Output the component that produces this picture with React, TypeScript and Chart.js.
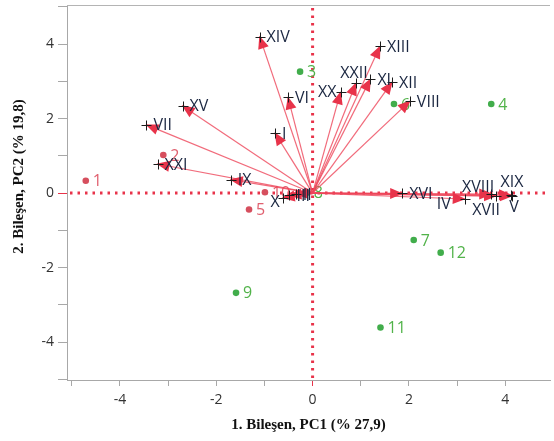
import React, { useEffect, useRef } from "react";
import { Chart, registerables } from "chart.js";

Chart.register(...registerables);

// Loadings (variables)
const loadingNames = ["I", "II", "III", "IV", "V", "VI", "VII", "VIII", "IX", "X", "XI", "XII", "XIII", "XIV", "XV", "XVI", "XVII", "XVIII", "XIX", "XX", "XXI", "XXII"];
const loadingPC1 = [-0.78, -0.35, -0.48, 3.16, 4.14, -0.51, -3.45, 2.02, -1.7, -0.62, 1.2, 1.65, 1.4, -1.1, -2.7, 1.86, 3.81, 3.71, 4.12, 0.58, -3.22, 0.9];
const loadingPC2 = [1.61, -0.03, -0.06, -0.16, -0.08, 2.57, 1.83, 2.47, 0.36, -0.13, 3.06, 2.98, 3.94, 4.2, 2.34, -0.01, -0.08, -0.03, -0.05, 2.71, 0.78, 2.95];

// Scores (observations)
const scoreNames = ["1", "2", "3", "4", "5", "6", "7", "8", "9", "10", "11", "12"];
const scorePC1 = [-4.71, -3.1, -0.26, 3.71, -1.32, 1.69, 2.1, -0.12, -1.59, -0.99, 1.41, 2.66];
const scorePC2 = [0.33, 1.02, 3.26, 2.39, -0.44, 2.39, -1.26, 0.01, -2.68, 0.02, -3.61, -1.6];
const scoreGroup = ["a", "a", "b", "b", "a", "b", "b", "b", "b", "a", "b", "b"];

// Ticks (all tick marks) and labelled tick values
const xTickValues = [-5, -4, -3, -2, -1, 0, 1, 2, 3, 4];
const yTickValues = [-5, -4, -3, -2, -1, 0, 1, 2, 3, 4, 5];
const xTickLabels = [-4, -2, 0, 2, 4];
const yTickLabels = [-4, -2, 0, 2, 4];

const xTitle = "1. Bileşen, PC1 (% 27,9)";
const yTitle = "2. Bileşen, PC2 (% 19,8)";

// styles
const RED = "#e8334a";
const ARROW_LINE = "rgba(238,70,90,0.8)";
const SCORE_COLORS: Record<string, string> = { a: "#d64f5e", b: "#41ad4b" };
const SCORE_LABEL_COLORS: Record<string, string> = { a: "#e0606f", b: "#52b34a" };
const LABEL_FONT = "16px 'Open Sans', 'Noto Sans', sans-serif";
const TICK_FONT = "'Open Sans', 'Noto Sans', sans-serif";

// label placement (align, dx, dy)
const labelPlace: Record<string, [CanvasTextAlign, number, number]> = {
  X: ["right", -3, 5],
  XX: ["right", -4, 0],
  XXII: ["center", -2, -10],
  IV: ["right", -14, 5],
  XVIII: ["right", 3, -7],
  XVII: ["center", -10, 14],
  XIX: ["center", 1, -12],
  V: ["center", 2, 11],
};

const biplotPlugin = {
  id: "biplot",
  beforeDatasetsDraw(chart: any) {
    const { ctx, chartArea: a, scales } = chart;
    const x = scales.x;
    const y = scales.y;
    ctx.save();
    ctx.strokeStyle = "#b4b4b4";
    ctx.lineWidth = 1;
    ctx.beginPath();
    ctx.moveTo(a.left, a.top + 0.5);
    ctx.lineTo(a.right, a.top + 0.5);
    ctx.stroke();
    const x0 = x.getPixelForValue(0);
    const y0 = y.getPixelForValue(0);
    ctx.strokeStyle = RED;
    ctx.lineWidth = 3;
    ctx.setLineDash([2.5, 5]);
    ctx.beginPath();
    ctx.moveTo(x0, a.top + 3);
    ctx.lineTo(x0, a.bottom);
    ctx.stroke();
    ctx.beginPath();
    ctx.moveTo(a.left + 3, y0);
    ctx.lineTo(a.right, y0);
    ctx.stroke();
    ctx.setLineDash([]);
    ctx.restore();
  },
  afterDatasetsDraw(chart: any) {
    const { ctx, scales } = chart;
    const x = scales.x;
    const y = scales.y;
    ctx.save();
    ctx.font = LABEL_FONT;
    ctx.textBaseline = "middle";
    ctx.textAlign = "left";
    scoreNames.forEach((n, i) => {
      const px = x.getPixelForValue(scorePC1[i]);
      const py = y.getPixelForValue(scorePC2[i]);
      ctx.fillStyle = SCORE_LABEL_COLORS[scoreGroup[i]];
      ctx.fillText(n, px + 7, py + 1);
    });
    const ox = x.getPixelForValue(0);
    const oy = y.getPixelForValue(0);
    ctx.strokeStyle = ARROW_LINE;
    ctx.lineWidth = 1.2;
    loadingNames.forEach((_, i) => {
      const px = x.getPixelForValue(loadingPC1[i]);
      const py = y.getPixelForValue(loadingPC2[i]);
      ctx.beginPath();
      ctx.moveTo(ox, oy);
      ctx.lineTo(px, py);
      ctx.stroke();
    });
    ctx.fillStyle = RED;
    loadingNames.forEach((_, i) => {
      const px = x.getPixelForValue(loadingPC1[i]);
      const py = y.getPixelForValue(loadingPC2[i]);
      const dx = px - ox;
      const dy = py - oy;
      const len = Math.hypot(dx, dy) || 1;
      const ux = dx / len;
      const uy = dy / len;
      const hl = 12;
      const hw = 5.5;
      const bx = px - ux * hl;
      const by = py - uy * hl;
      ctx.beginPath();
      ctx.moveTo(px + ux * 1, py + uy * 1);
      ctx.lineTo(bx - uy * hw, by + ux * hw);
      ctx.lineTo(bx + uy * hw, by - ux * hw);
      ctx.closePath();
      ctx.fill();
    });
    ctx.strokeStyle = "#1b1b1b";
    ctx.lineWidth = 1;
    loadingNames.forEach((_, i) => {
      const px = Math.round(x.getPixelForValue(loadingPC1[i])) + 0.5;
      const py = Math.round(y.getPixelForValue(loadingPC2[i])) + 0.5;
      ctx.beginPath();
      ctx.moveTo(px - 5, py);
      ctx.lineTo(px + 5, py);
      ctx.moveTo(px, py - 5);
      ctx.lineTo(px, py + 5);
      ctx.stroke();
    });
    ctx.fillStyle = "#1a2640";
    ctx.font = LABEL_FONT;
    ctx.textBaseline = "middle";
    loadingNames.forEach((n, i) => {
      const px = x.getPixelForValue(loadingPC1[i]);
      const py = y.getPixelForValue(loadingPC2[i]);
      const p = labelPlace[n] || ["left", 7, 1];
      ctx.textAlign = p[0];
      ctx.fillText(n, px + p[1], py + p[2]);
    });
    ctx.restore();
  },
  afterDraw(chart: any) {
    const { ctx, chartArea: a } = chart;
    ctx.save();
    ctx.translate(19, (a.top + a.bottom) / 2 - 16);
    ctx.rotate(-Math.PI / 2);
    ctx.font = "bold 15px 'Liberation Serif', 'Times New Roman', serif";
    ctx.fillStyle = "#111";
    ctx.textAlign = "center";
    ctx.textBaseline = "middle";
    ctx.fillText(yTitle, 0, 0);
    ctx.restore();
  },
};

const tickColor = (c: any) => (c.tick && c.tick.value === 0 ? RED : "#a8a8a8");

export default function App() {
  const ref = useRef<HTMLCanvasElement | null>(null);
  useEffect(() => {
    document.body.style.margin = "0";
    if (!ref.current) return;
    const chart = new Chart(ref.current, {
      type: "scatter",
      data: {
        datasets: ["a", "b"].map((g) => ({
          label: g,
          data: scoreNames
            .map((_, i) => ({ x: scorePC1[i], y: scorePC2[i], g: scoreGroup[i] }))
            .filter((d) => d.g === g)
            .map((d) => ({ x: d.x, y: d.y })),
          pointRadius: 3.3,
          pointBorderWidth: 0,
          backgroundColor: SCORE_COLORS[g],
          borderColor: SCORE_COLORS[g],
        })),
      },
      options: {
        animation: false,
        responsive: false,
        maintainAspectRatio: false,
        layout: { padding: { top: 5, left: 0, right: 0, bottom: 0 } },
        plugins: { legend: { display: false }, tooltip: { enabled: false } },
        scales: {
          x: {
            type: "linear",
            bounds: "data",
            min: -5.1,
            max: 4.93,
            afterBuildTicks: (s: any) => {
              s.ticks = xTickValues.map((v) => ({ value: v }));
            },
            ticks: {
              autoSkip: false,
              maxRotation: 0,
              padding: 6,
              color: "#333",
              font: { family: TICK_FONT, size: 14 },
              callback: (v: any) => (xTickLabels.includes(Number(v)) ? String(v) : ""),
            },
            grid: { drawOnChartArea: false, drawTicks: true, tickLength: 6, tickColor: tickColor },
            border: { color: "#a8a8a8" },
            title: {
              display: true,
              text: xTitle,
              color: "#111",
              font: { family: "'Liberation Serif', 'Times New Roman', serif", size: 15, weight: "bold" },
              padding: { top: 0, bottom: 7 },
            },
            afterFit: (s: any) => {
              s.height = 61;
              s.paddingLeft = 0;
              s.paddingRight = 0;
            },
          },
          y: {
            type: "linear",
            bounds: "data",
            min: -5.02,
            max: 5.05,
            afterBuildTicks: (s: any) => {
              s.ticks = yTickValues.map((v) => ({ value: v }));
            },
            ticks: {
              autoSkip: false,
              padding: 4,
              color: "#333",
              font: { family: TICK_FONT, size: 14 },
              callback: (v: any) => (yTickLabels.includes(Number(v)) ? String(v) : ""),
            },
            grid: { drawOnChartArea: false, drawTicks: true, tickLength: 9, tickColor: tickColor },
            border: { color: "#a8a8a8" },
            afterFit: (s: any) => {
              s.width = 67;
              s.paddingTop = 0;
              s.paddingBottom = 0;
            },
          },
        },
      } as any,
      plugins: [biplotPlugin],
    });
    return () => chart.destroy();
  }, []);
  return <canvas ref={ref} width={554} height={441} style={{ display: "block" }} />;
}
